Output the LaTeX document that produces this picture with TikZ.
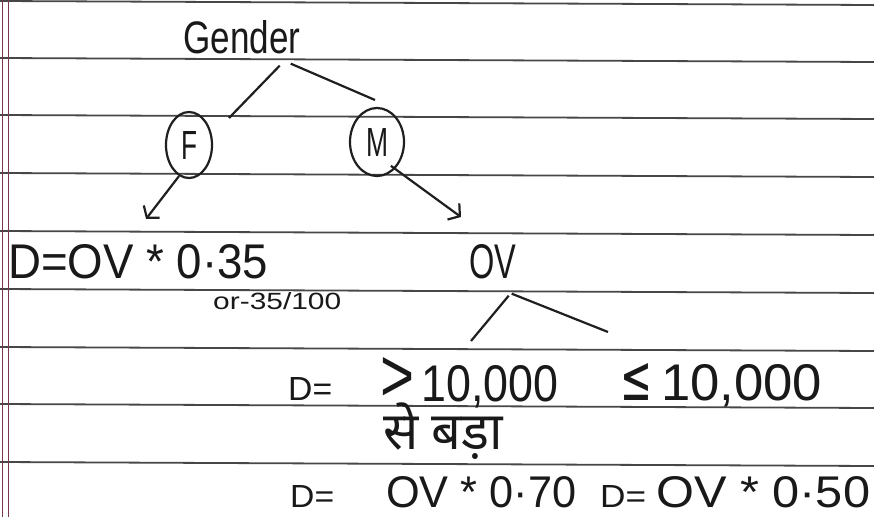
\documentclass[tikz,border=0pt]{standalone}
\usepackage{fontspec}
\usepackage{graphicx}
\setmainfont{Liberation Sans}
\newfontfamily\deva[Script=Devanagari]{Noto Sans}
\newfontfamily\symf{DejaVu Sans}
\usetikzlibrary{arrows.meta,shapes.geometric}
\newcommand{\fitto}[3]{\resizebox{#1pt}{#2pt}{#3}}
\begin{document}
\begin{tikzpicture}[x=1pt,y=-1pt,
  ink/.style={line width=2.2pt, draw=black!88},
  rule/.style={line width=1.8pt, draw=black!72},
  marginline/.style={line width=1pt, draw={rgb,255:red,120;green,55;blue,75}},
  txt/.style={inner sep=0pt, anchor=base west, text=black!90},
  arr/.style={ink, -{Straight Barb[length=8pt,width=20pt,line width=2.2pt]}},
  ring/.style={ellipse, ink, inner sep=0pt, text=black!90}]
\useasboundingbox (0,0) rectangle (874,517);
\fill[white] (0,0) rectangle (874,517);
% ruled paper
\foreach \yy in {1,58,115,173,231,289,347,404,462}
  \draw[rule] (0,\yy) -- (874,\yy+4);
\draw[marginline] (2,0) -- (2,517);
\draw[marginline] (8,0) -- (8,517);
% tree
\node[txt] (gender) at (183,53) {\fitto{117}{33}{Gender}};
\node[ring, minimum width=46pt, minimum height=66pt] (F) at (189,145) {\fitto{16}{28}{F}};
\node[ring, minimum width=54pt, minimum height=68pt] (M) at (377,142) {\fitto{22}{28}{M}};
\coordinate (gl) at (229,118);
\coordinate (gr) at (375,100);
\draw[ink] ([shift={(38,12)}]gender.south) -- (gl);
\draw[ink] ([shift={(49,10)}]gender.south) -- (gr);
\node[txt] (d1) at (8,278) {\fitto{260}{34}{D=OV * 0·35}};
\node[txt] (or) at (213,309) {\fitto{128}{17}{or-35/100}};
\node[txt] (ov) at (469,278) {\fitto{47}{34}{OV}};
\coordinate (fa) at (146,219);
\coordinate (ma) at (461,217);
\draw[arr] ([shift={(-10,-3)}]F.south) -- (fa);
\draw[arr] ([shift={(-6,-1)}]M.south east) -- (ma);
% OV split
\coordinate (ol) at (471,341);
\coordinate (orr) at (608,332);
\draw[ink] ([shift={(16,17)}]ov.south) -- (ol);
\draw[ink] ([shift={(19,15)}]ov.south) -- (orr);
\node[txt] (deq) at (288,400) {\fitto{44}{23}{D=}};
\node[txt] (gt) at (380,401) {\fitto{34}{44}{>}\hspace{7pt}\fitto{137}{36}{10,000}};
\node[txt] (le) at (620,400) {\fitto{32}{37}{\symf ≤}\hspace{9pt}\fitto{161}{36}{10,000}};
\node[inner sep=0pt, text=black!90] (hin) at (443,431) {\resizebox{120pt}{!}{\deva से बड़ा}};
% bottom row
\node[txt] (b1) at (290,507) {\fitto{44}{22}{D=}};
\node[txt] (b2) at (386,507) {\fitto{190}{31}{OV * 0·70}};
\node[txt] (b3) at (600,507) {\fitto{46}{22}{D=}};
\node[txt] (b4) at (656,507) {\fitto{214}{31}{OV * 0·50}};
\end{tikzpicture}
\end{document}
